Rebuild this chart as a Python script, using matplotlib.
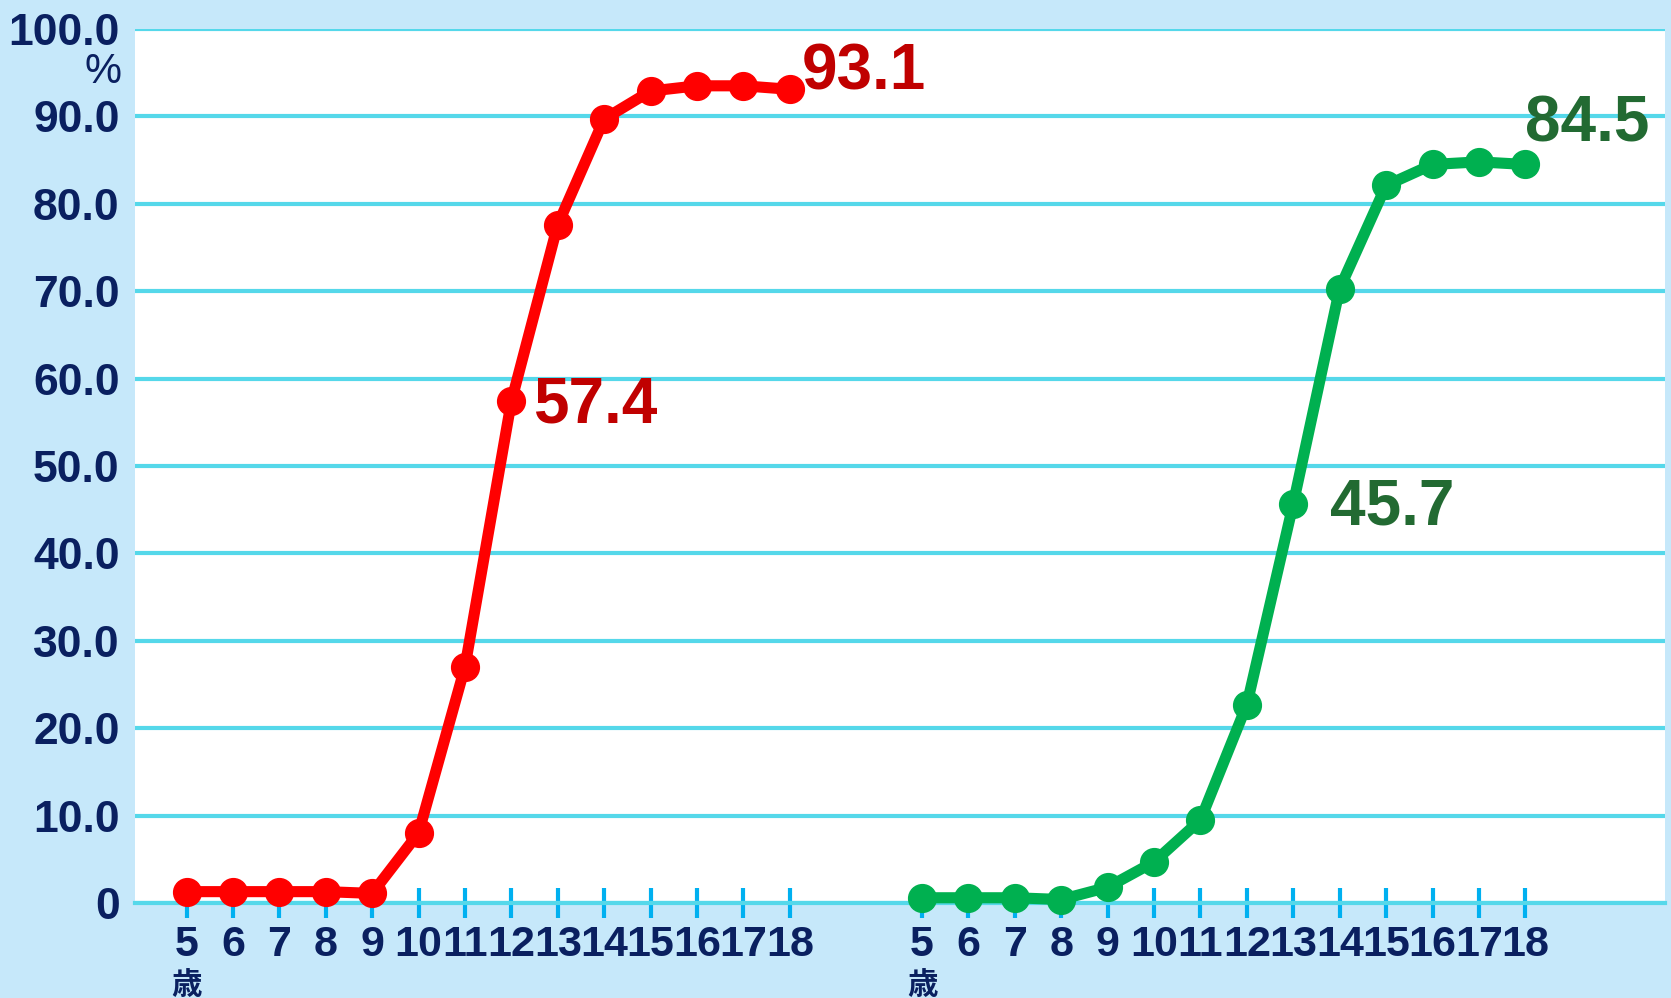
import numpy as np
import matplotlib.pyplot as plt
from matplotlib import transforms

# data
ages = list(range(5, 19))
boys = [1.3, 1.3, 1.3, 1.3, 1.1, 8.0, 27.0, 57.4, 77.6, 89.7, 92.9, 93.5, 93.5, 93.1]
girls = [0.6, 0.6, 0.6, 0.4, 1.8, 4.7, 9.5, 22.7, 45.7, 70.3, 82.1, 84.5, 84.8, 84.5]
yticks = list(range(0, 101, 10))
ytick_labels = ['0'] + ['%.1f' % v for v in yticks[1:]]

bg = '#c6e8fa'
grid_c = '#55d8ea'
navy = '#0a2060'
red, red_txt = '#ff0000', '#c00000'
green, green_txt = '#00b050', '#226a32'

x_boys = np.arange(len(ages))
x_girls = np.arange(len(ages)) + 15.85

fig = plt.figure(figsize=(16.71, 9.98), dpi=100, facecolor=bg)
ax = fig.add_axes([135 / 1671, 95 / 998, 1530 / 1671, 874 / 998])
ax.set_facecolor('white')
ax.set_xlim(-1.11, 31.86)
ax.set_ylim(0, 100)

for s in ['top', 'left', 'right']:
    ax.spines[s].set_visible(False)
ax.spines['bottom'].set_color(grid_c)
ax.spines['bottom'].set_linewidth(3)

ax.set_axisbelow(True)
ax.yaxis.grid(True, color=grid_c, lw=3)

ax.set_yticks(yticks)
ax.set_yticklabels(ytick_labels, fontsize=32, fontweight='bold', color=navy,
                   family='Liberation Sans')
ax.tick_params(axis='y', length=0, pad=11)

ax.set_xticks(np.concatenate([x_boys, x_girls]))
ax.set_xticklabels([str(a) for a in ages] * 2, fontsize=31, fontweight='bold',
                   color=navy, family='Liberation Sans')
ax.tick_params(axis='x', direction='inout', length=22, width=3, color='#00b0f0', pad=5)

ax.plot(x_boys, boys, color=red, lw=8, marker='o', ms=20, clip_on=False, zorder=3)
ax.plot(x_girls, girls, color=green, lw=8, marker='o', ms=20, clip_on=False, zorder=3)

lab = dict(fontsize=46, fontweight='bold', family='Liberation Sans', textcoords='offset pixels',
           ha='left', va='center', zorder=4)
ax.annotate('93.1', (x_boys[-1], boys[-1]), xytext=(12, 17), color=red_txt, **lab)
ax.annotate('57.4', (x_boys[7], boys[7]), xytext=(22, -4), color=red_txt, **lab)
ax.annotate('45.7', (x_girls[8], girls[8]), xytext=(37, -4), color=green_txt, **lab)
ax.annotate('84.5', (x_girls[-1], girls[-1]), xytext=(0, 40), color=green_txt, **lab)

# unit labels
fig.text(122 / 1671, 1 - 72 / 998, '%', fontsize=30, color=navy, ha='right', va='center',
         family='Liberation Sans')
tr = transforms.blended_transform_factory(ax.transData, fig.transFigure)
for x0 in [x_boys[0], x_girls[0]]:
    ax.text(x0, 13 / 998, '歳', transform=tr, fontsize=22, fontweight='bold', color=navy,
            ha='center', va='center', family=['Noto Sans CJK JP', 'DejaVu Sans'])

fig.savefig('out.png', dpi=100, facecolor=bg)
